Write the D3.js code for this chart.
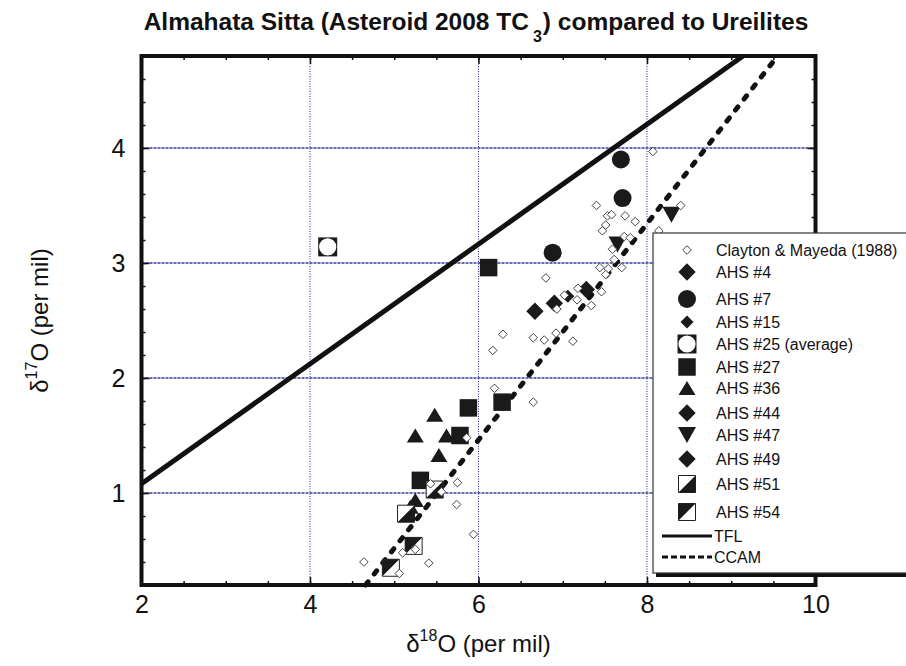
<!DOCTYPE html>
<html>
<head>
<script src="https://d3js.org/d3.v7.min.js"></script>
<style>
  body { margin: 0; background: #fff; }
  text { font-family: "Liberation Sans", Arial, Helvetica, sans-serif; fill: #111; }
</style>
</head>
<body>
<svg id="chart" width="906" height="666"></svg>
<script>
// data: [d18O, d17O]
const clayton = [
  [8.07, 3.97], [7.40, 3.50], [8.40, 3.50], [7.53, 3.41], [7.58, 3.42], [7.74, 3.41],
  [7.86, 3.36], [7.51, 3.33], [7.47, 3.28], [8.14, 3.28], [7.73, 3.23], [7.80, 3.22],
  [7.59, 3.12], [7.61, 3.03], [7.44, 2.96], [7.54, 2.95], [7.70, 2.96], [7.51, 2.90],
  [6.80, 2.87], [7.46, 2.75], [7.34, 2.63], [7.18, 2.78], [7.02, 2.72], [7.17, 2.68],
  [6.93, 2.60], [6.29, 2.38], [6.17, 2.24], [6.65, 2.35], [6.78, 2.33], [6.92, 2.39],
  [7.12, 2.32], [6.19, 1.91], [6.65, 1.79], [5.86, 1.48], [5.43, 1.08], [5.75, 1.09],
  [5.56, 1.01], [5.74, 0.90], [5.94, 0.64], [4.64, 0.40], [5.10, 0.48], [5.25, 0.51],
  [5.41, 0.39], [5.06, 0.30]
];
const ahs4  = [[6.67, 2.58]];
const ahs7  = [[7.69, 3.90], [7.71, 3.565], [6.88, 3.09]];
const ahs15 = [[7.06, 2.71]];
const ahs25 = [[4.21, 3.14]];
const ahs27 = [[6.12, 2.96], [5.88, 1.74], [6.28, 1.79], [5.78, 1.50], [5.31, 1.11]];
const ahs36 = [[5.48, 1.68], [5.25, 1.50], [5.62, 1.50], [5.53, 1.33], [5.25, 0.94], [5.19, 0.88]];
const ahs44 = [[6.90, 2.65]];
const ahs47 = [[8.29, 3.42], [7.65, 3.16]];
const ahs49 = [[7.28, 2.77]];
const ahs51 = [[5.48, 1.03], [5.14, 0.82]];
const ahs54 = [[5.23, 0.54], [4.96, 0.35]];
// reference lines (end points)
const tflLine  = [[2.0, 1.08], [9.14, 4.80]];
const ccamLine = [[4.66, 0.20], [9.55, 4.80]];

const xMajor = [2, 4, 6, 8, 10];
const yMajor = [1, 2, 3, 4];
const xGrid = [4, 6, 8];

const svg = d3.select("#chart");
const L = 141.5, R = 815.5, T = 56, B = 585;
const x = d3.scaleLinear().domain([2, 10]).range([L, R]);
const y = d3.scaleLinear().domain([0.2, 4.8]).range([B, T]);

// grid
svg.append("g").selectAll("line").data(yMajor).join("line")
  .attr("x1", L).attr("x2", R).attr("y1", d => y(d)).attr("y2", d => y(d))
  .attr("stroke", "#6a6ab4").attr("stroke-width", 2).attr("stroke-dasharray", "3,1");
svg.append("g").selectAll("line").data(xGrid).join("line")
  .attr("x1", d => x(d)).attr("x2", d => x(d)).attr("y1", T).attr("y2", B)
  .attr("stroke", "#2a2a9a").attr("stroke-width", 1).attr("stroke-dasharray", "1,1.5");

// ticks on all four sides, pointing inward
function ticks(axis, values, size, pos, labels) {
  const g = svg.append("g").attr("transform", pos)
    .call(axis.tickValues(values).tickSize(-size).tickPadding(size + 10).tickFormat(labels ? d3.format("d") : ""));
  g.select(".domain").remove();
  g.selectAll(".tick line").attr("stroke", "#111").attr("stroke-width", 1.5);
  g.selectAll(".tick text").style("font-size", "25px").style("font-family", "Liberation Sans, Arial, sans-serif").attr("fill", "#111");
  return g;
}
const xMinor = d3.range(2, 10.01, 0.5), yMinor = d3.range(0.2, 4.81, 0.2);
ticks(d3.axisBottom(x), xMinor, 4, `translate(0,${B})`, false);
ticks(d3.axisTop(x), xMinor, 4, `translate(0,${T})`, false);
ticks(d3.axisLeft(y), yMinor, 4, `translate(${L},0)`, false);
ticks(d3.axisRight(y), yMinor, 4, `translate(${R},0)`, false);
const xb = ticks(d3.axisBottom(x), xMajor, 8, `translate(0,${B})`, true);
xb.selectAll(".tick text").attr("dy", "0.71em").attr("y", 10);
ticks(d3.axisTop(x), xMajor, 8, `translate(0,${T})`, false);
const yl = ticks(d3.axisLeft(y), yMajor, 8, `translate(${L},0)`, true);
yl.selectAll(".tick text").attr("x", -16);
ticks(d3.axisRight(y), yMajor, 8, `translate(${R},0)`, false);

// reference lines
const line = d3.line().x(d => x(d[0])).y(d => y(d[1]));
const plot = svg.append("g");
plot.append("path").datum(tflLine).attr("d", line)
  .attr("fill", "none").attr("stroke", "#111").attr("stroke-width", 5);
plot.append("path").datum(ccamLine).attr("d", line)
  .attr("fill", "none").attr("stroke", "#111").attr("stroke-width", 5)
  .attr("stroke-dasharray", "4,10").attr("stroke-linecap", "round");

// marker shapes
const shapes = {
  diamond: h => `M0,${-h}L${h},0L0,${h}L${-h},0Z`,
  square: s => `M${-s/2},${-s/2}h${s}v${s}h${-s}Z`,
  triUp: () => "M0,-7L8.5,7L-8.5,7Z",
  triDown: () => "M-9,-8L9,-8L0,8Z"
};
function drawMarker(g, type) {
  if (type === "clayton") {
    g.append("path").attr("d", shapes.diamond(4.3)).attr("fill", "#fff").attr("stroke", "#444").attr("stroke-width", 1);
  } else if (type === "diamond") {
    g.append("path").attr("d", shapes.diamond(8.7)).attr("fill", "#1a1a1a");
  } else if (type === "smallDiamond") {
    g.append("path").attr("d", shapes.diamond(6.5)).attr("fill", "#1a1a1a");
  } else if (type === "circle") {
    g.append("circle").attr("r", 9).attr("fill", "#1a1a1a");
  } else if (type === "boxCircle") {
    g.append("path").attr("d", shapes.square(19)).attr("fill", "#1a1a1a");
    g.append("circle").attr("r", 8.6).attr("fill", "#fff");
  } else if (type === "square") {
    g.append("path").attr("d", shapes.square(17.5)).attr("fill", "#1a1a1a");
  } else if (type === "triUp") {
    g.append("path").attr("d", shapes.triUp()).attr("fill", "#1a1a1a");
  } else if (type === "triDown") {
    g.append("path").attr("d", shapes.triDown()).attr("fill", "#1a1a1a");
  } else if (type === "half51" || type === "half54") {
    const s = 17;
    g.append("path").attr("d", shapes.square(s)).attr("fill", "#fff").attr("stroke", "#222").attr("stroke-width", 1);
    const tri = type === "half51"
      ? `M${s/2},${-s/2}L${s/2},${s/2}L${-s/2},${s/2}Z`
      : `M${-s/2},${-s/2}L${s/2},${-s/2}L${-s/2},${s/2}Z`;
    g.append("path").attr("d", tri).attr("fill", "#1a1a1a");
  }
}

const series = [
  { name: "AHS #4", data: ahs4, type: "diamond" },
  { name: "AHS #7", data: ahs7, type: "circle" },
  { name: "AHS #15", data: ahs15, type: "smallDiamond" },
  { name: "AHS #25 (average)", data: ahs25, type: "boxCircle" },
  { name: "AHS #27", data: ahs27, type: "square" },
  { name: "AHS #36", data: ahs36, type: "triUp" },
  { name: "AHS #44", data: ahs44, type: "diamond" },
  { name: "AHS #47", data: ahs47, type: "triDown" },
  { name: "AHS #49", data: ahs49, type: "diamond" },
  { name: "AHS #51", data: ahs51, type: "half51" },
  { name: "AHS #54", data: ahs54, type: "half54" }
];
series.forEach(s => {
  plot.append("g").selectAll("g").data(s.data).join("g")
    .attr("transform", d => `translate(${x(d[0])},${y(d[1])})`)
    .each(function () { drawMarker(d3.select(this), s.type); });
});
plot.append("g").selectAll("g").data(clayton).join("g")
  .attr("transform", d => `translate(${x(d[0])},${y(d[1])})`)
  .each(function () { drawMarker(d3.select(this), "clayton"); });

// frame
svg.append("rect").attr("x", L).attr("y", T).attr("width", R - L).attr("height", B - T)
  .attr("fill", "none").attr("stroke", "#111").attr("stroke-width", 4);

// legend
const lg = svg.append("g").attr("transform", "translate(653,233)");
lg.append("rect").attr("x", 3).attr("y", 4).attr("width", 300).attr("height", 340).attr("fill", "#111");
lg.append("rect").attr("x", 0).attr("y", 0).attr("width", 300).attr("height", 340)
  .attr("fill", "#fff").attr("stroke", "#333").attr("stroke-width", 1.2);
const legendRows = [{ name: "Clayton & Mayeda (1988)", type: "clayton" }].concat(series);
const rowY = [17, 39, 66, 89, 111, 134, 155, 180, 202, 226, 251, 279];
legendRows.forEach((r, i) => {
  const g = lg.append("g").attr("transform", `translate(34,${rowY[i]})`);
  drawMarker(g, r.type);
  lg.append("text").attr("x", 63).attr("y", rowY[i] + 6).style("font-size", "16px").text(r.name);
});
lg.append("line").attr("x1", 9).attr("x2", 59).attr("y1", 303).attr("y2", 303)
  .attr("stroke", "#111").attr("stroke-width", 3);
lg.append("text").attr("x", 61).attr("y", 309).style("font-size", "16px").text("TFL");
lg.append("line").attr("x1", 9).attr("x2", 59).attr("y1", 324).attr("y2", 324)
  .attr("stroke", "#111").attr("stroke-width", 3).attr("stroke-dasharray", "6,3");
lg.append("text").attr("x", 61).attr("y", 330).style("font-size", "16px").text("CCAM");

// title
const title = svg.append("text").attr("x", 476).attr("y", 30).attr("text-anchor", "middle")
  .style("font-size", "24.5px").style("font-weight", "bold");
title.append("tspan").text("Almahata Sitta (Asteroid 2008 TC");
title.append("tspan").attr("dx", 4).attr("dy", 12).style("font-size", "16px").text("3");
title.append("tspan").attr("dx", 1).attr("dy", -12).text(") compared to Ureilites");

// axis titles
const xt = svg.append("text").attr("x", (L + R) / 2).attr("y", 652).attr("text-anchor", "middle")
  .style("font-size", "24px");
xt.append("tspan").text("\u03b4");
xt.append("tspan").attr("dy", -11).style("font-size", "16px").text("18");
xt.append("tspan").attr("dy", 11).text("O (per mil)");

const yt = svg.append("text").attr("transform", `translate(48,${(T + B) / 2}) rotate(-90)`)
  .attr("text-anchor", "middle").style("font-size", "24px");
yt.append("tspan").text("\u03b4");
yt.append("tspan").attr("dy", -11).style("font-size", "16px").text("17");
yt.append("tspan").attr("dy", 11).text("O (per mil)");
</script>
</body>
</html>
